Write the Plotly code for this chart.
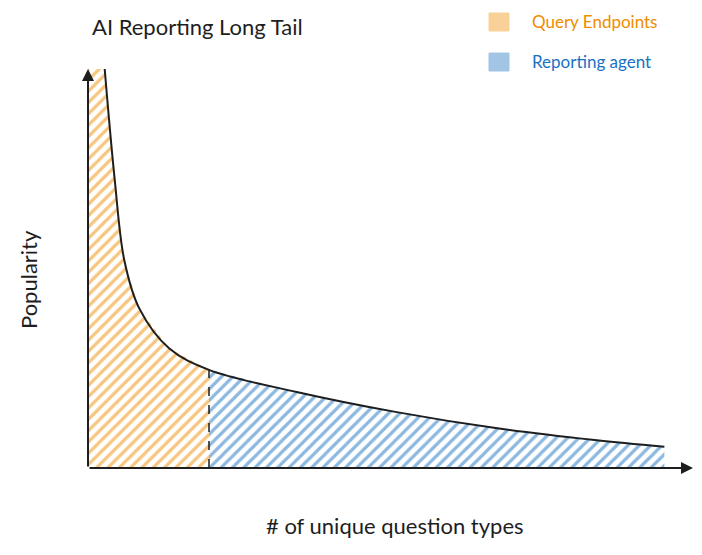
import plotly.graph_objects as go

# curve samples (x: % of question types, y: popularity)
curve_x = [2.8, 4.5, 6.1, 8.6, 13.6, 20.3, 35.2, 51.8, 68.4, 85.0, 96.7]
curve_y = [100, 72, 52, 40, 30, 24.6, 19, 14, 10, 7, 5.3]
split_x = 20.3
split_y = 24.6

orange = "#f08c00"
blue = "#1971c2"
font = "Comic Sans MS, Lato, sans-serif"

W, H = 694, 547
L, R, T, B = 80, 12, 61, 87
PW, PH = W - L - R, H - T - B


def px(x):  # reference pixel x -> paper
    return (x - 8 - L) / PW


def py(y):  # reference pixel y (from top) -> paper
    return (H - (y - 8) - B) / PH


ox = [0, 0] + [x for x in curve_x if x <= split_x]
oy = [0, 100] + [y for x, y in zip(curve_x, curve_y) if x <= split_x]
bx = [x for x in curve_x if x >= split_x]
by = [y for x, y in zip(curve_x, curve_y) if x >= split_x]

fig = go.Figure()
fig.add_trace(go.Scatter(x=ox, y=oy, fill="tozeroy", mode="none", fillcolor="rgba(0,0,0,0)",
                         fillpattern=dict(shape="/", fgcolor=orange, bgcolor="rgba(0,0,0,0)", size=8, solidity=0.4),
                         showlegend=False))
fig.add_trace(go.Scatter(x=bx, y=by, fill="tozeroy", mode="none", fillcolor="rgba(0,0,0,0)",
                         fillpattern=dict(shape="/", fgcolor=blue, bgcolor="rgba(0,0,0,0)", size=8, solidity=0.4),
                         showlegend=False))
fig.add_trace(go.Scatter(x=[split_x, split_x], y=[0, split_y], mode="lines",
                         line=dict(color="#1e1e1e", width=1.5, dash="dash"), showlegend=False))
fig.add_trace(go.Scatter(x=curve_x, y=curve_y, mode="lines", line=dict(color="#1e1e1e", width=2, shape="spline"),
                         showlegend=False))

fig.add_annotation(x=101.5, y=0, ax=0, ay=0, xref="x", yref="y", axref="x", ayref="y",
                   showarrow=True, arrowhead=2, arrowsize=1.2, arrowwidth=2, arrowcolor="#1e1e1e", text="")
fig.add_annotation(x=0, y=100, ax=0, ay=0, xref="x", yref="y", axref="x", ayref="y",
                   showarrow=True, arrowhead=2, arrowsize=1.2, arrowwidth=2, arrowcolor="#1e1e1e", text="")

fig.add_annotation(x=px(90), y=py(27), xref="paper", yref="paper", xanchor="left", yanchor="middle",
                   showarrow=False, text="AI Reporting Long Tail", font=dict(family=font, size=22, color="#1e1e1e"))
fig.add_annotation(x=px(395), y=py(525), xref="paper", yref="paper", yanchor="middle", showarrow=False,
                   text="# of unique question types", font=dict(family=font, size=22, color="#1e1e1e"))
fig.add_annotation(x=px(28), y=py(280), xref="paper", yref="paper", xanchor="center", yanchor="middle",
                   showarrow=False, textangle=-90, text="Popularity",
                   font=dict(family=font, size=22, color="#1e1e1e"))

for i, (name, col) in enumerate([("Query Endpoints", orange), ("Reporting agent", blue)]):
    yc = 22 + i * 40
    fig.add_shape(type="rect", xref="paper", yref="paper", x0=px(489), x1=px(509),
                  y0=py(yc + 9), y1=py(yc - 9),
                  line=dict(color=col, width=1), fillcolor=col, opacity=0.4)
    fig.add_annotation(x=px(530), y=py(yc), xref="paper", yref="paper", xanchor="left", yanchor="middle",
                       showarrow=False, text=name, font=dict(family=font, size=17, color=col))

fig.update_xaxes(range=[0, 101], visible=False)
fig.update_yaxes(range=[0, 100], visible=False)
fig.update_layout(width=W, height=H, margin=dict(l=L, r=R, t=T, b=B, autoexpand=False),
                  plot_bgcolor="white", paper_bgcolor="white")
fig.write_html("out.html")
